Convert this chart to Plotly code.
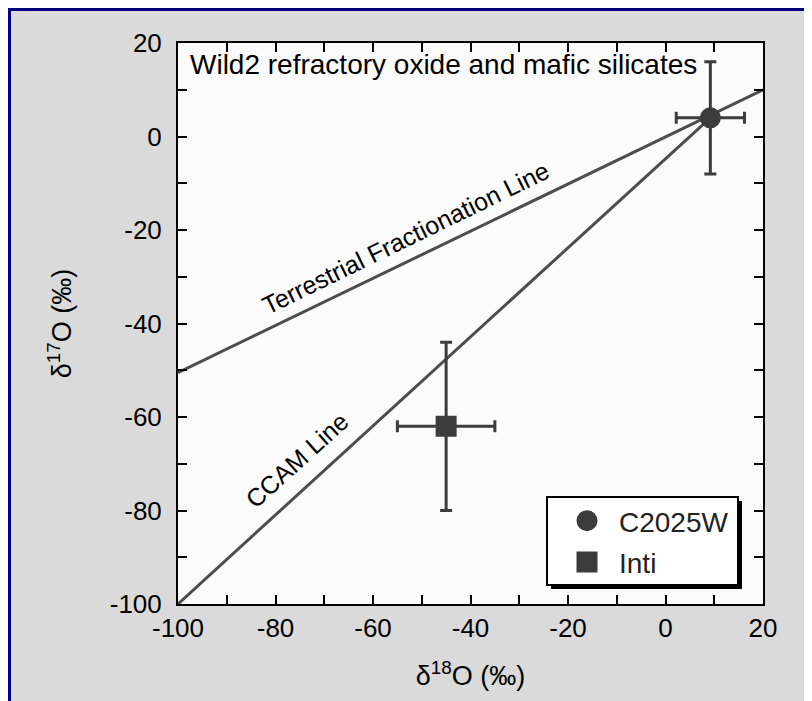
import plotly.graph_objects as go

# sample points (delta18O, delta17O) with errors
names = ["C2025W", "Inti"]
symbols = ["circle", "square"]
d18 = [9.2, -45.0]
d17 = [4.0, -62.0]
d18_err = [7.0, 10.0]
d17_err = [12.0, 18.0]

# reference lines
tfl_x = [-100, 20]
tfl_y = [-50.5, 10]
ccam_x = [-100, 9.2]
ccam_y = [-100, 4.0]

tick_vals = [-100, -80, -60, -40, -20, 0, 20]
tick_text = ["-100", "-80", "-60", "-40", "-20", "0", "20"]

FONT = "Liberation Sans, Arial, Helvetica, sans-serif"
DARK = "#3c3c3c"
LINE = "#4d4d4d"

fig = go.Figure()

fig.add_trace(go.Scatter(x=tfl_x, y=tfl_y, mode="lines", showlegend=False,
                         line=dict(color=LINE, width=3), hoverinfo="skip"))
fig.add_trace(go.Scatter(x=ccam_x, y=ccam_y, mode="lines", showlegend=False,
                         line=dict(color=LINE, width=3), hoverinfo="skip"))

for i, nm in enumerate(names):
    # marker outline in the same colour so the legend symbol gets bigger too
    fig.add_trace(go.Scatter(
        x=[d18[i]], y=[d17[i]], mode="markers", name=nm,
        legendgroup=nm,
        marker=dict(symbol=symbols[i], size=16, color=DARK,
                    line=dict(color=DARK, width=5)),
        error_x=dict(type="constant", value=d18_err[i], color=DARK, thickness=3, width=6),
        error_y=dict(type="constant", value=d17_err[i], color=DARK, thickness=3, width=6),
    ))

# page body has an 8px margin, so the figure is a bit smaller than the window
OFF = 8
W, H = 812 - OFF, 701 - OFF
L, R, T, B = 170, 49, 35, 97
pw, ph = W - L - R, H - T - B


def px(x):
    # page pixel -> paper fraction
    return (x - OFF - L) / pw


def py(y):
    return (H - B - (y - OFF)) / ph


def make_axis(standoff):
    return dict(
        range=[-100, 20], tickvals=tick_vals, ticktext=tick_text,
        showgrid=False, zeroline=False,
        showline=True, linecolor="black", linewidth=2, mirror="allticks",
        ticks="inside", ticklen=9, tickwidth=2, tickcolor="black",
        minor=dict(dtick=10, ticks="inside", ticklen=9, tickwidth=2, tickcolor="black"),
        tickfont=dict(family=FONT, size=26, color="black"),
        ticklabelstandoff=standoff,
    )


fig.update_layout(
    width=W, height=H,
    margin=dict(l=L, r=R, t=T, b=B),
    paper_bgcolor="#dadada", plot_bgcolor="#fbfbfb",
    font=dict(family=FONT, color="black"),
    xaxis=dict(make_axis(0), title=dict(text="δ<sup>18</sup>O (‰)", font=dict(size=27), standoff=24)),
    yaxis=dict(make_axis(9), title=dict(text="δ<sup>17</sup>O (‰)", font=dict(size=27), standoff=30)),
    legend=dict(x=px(555), y=py(496), xanchor="left", yanchor="top",
                bgcolor="rgba(0,0,0,0)", borderwidth=0, itemwidth=54,
                font=dict(family=FONT, size=28, color="#222"),
                tracegroupgap=2),
    showlegend=True,
)

# legend box with drop shadow
fig.add_shape(type="rect", xref="paper", yref="paper", layer="above",
              x0=px(551), x1=px(742), y0=py(589), y1=py(501),
              fillcolor="black", line=dict(width=0))
fig.add_shape(type="rect", xref="paper", yref="paper", layer="above",
              x0=px(547), x1=px(738), y0=py(585), y1=py(497),
              fillcolor="white", line=dict(color="black", width=2))

# page frame (top and left edges visible)
fig.add_shape(type="path", xref="paper", yref="paper",
              path=f"M {px(9.5)} {py(710)} L {px(9.5)} {py(9.5)} L {px(820)} {py(9.5)}",
              line=dict(color="#000080", width=3))

fig.add_annotation(x=-98, y=15.5, xref="x", yref="y", xanchor="left", yanchor="middle",
                   text="Wild2 refractory oxide and mafic silicates", showarrow=False,
                   font=dict(family=FONT, size=28, color="black"))
fig.add_annotation(x=-53.4, y=-21.7, xref="x", yref="y", textangle=-26,
                   text="Terrestrial Fractionation Line", showarrow=False,
                   font=dict(family=FONT, size=25, color="black"))
fig.add_annotation(x=-75.6, y=-69.2, xref="x", yref="y", textangle=-42,
                   text="CCAM Line", showarrow=False,
                   font=dict(family=FONT, size=25, color="black"))

fig.write_html("out.html")
